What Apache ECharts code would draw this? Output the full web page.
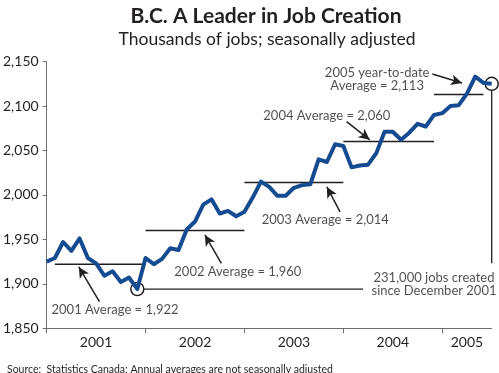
<!DOCTYPE html>
<html>
<head>
<meta charset="utf-8">
<script src="https://cdn.jsdelivr.net/npm/echarts@6/dist/echarts.min.js"></script>
<style>
html,body{margin:0;padding:0;background:#fff;}
#chart{width:499px;height:373px;}
</style>
</head>
<body>
<div id="chart"></div>
<script>
// Monthly employment, Jan 2001 .. Jul 2005 (thousands, seasonally adjusted)
const jobs = [1925,1929,1947,1937,1951,1929,1923,1909,1914,1902,1907,1894,
              1929,1922,1928,1940,1938,1961,1970,1989,1995,1979,1982,1976,
              1981,1997,2015,2009,1999,1999,2008,2011,2012,2040,2037,2057,
              2055,2031,2033,2034,2047,2071,2071,2062,2070,2080,2077,2090,
              2092,2100,2101,2114,2133,2126,2125];
const years = ['2001','2002','2003','2004','2005'];
const yearStartMonth = [0,12,24,36,48];
const yearLabelMonth = [6,18,30,42,51];
const yTicks = [1850,1900,1950,2000,2050,2100,2150];
// annual averages (not seasonally adjusted)
const avgValues = [1922,1960,2014,2060,2113];
const avgFrom = [1,12,24,36,47];
const avgTo = [12,24,36,47,53];
const avgTexts = ['2001 Average = 1,922','2002 Average = 1,960','2003 Average = 2,014','2004 Average = 2,060','2005 year-to-date\nAverage = 2,113'];
const createdText = '231,000 jobs created\nsince December 2001';
const lowIndex = 11;   // December 2001
const lastIndex = jobs.length - 1;

const FONT = 'Lato';
const TXT = '#231f20';
const chart = echarts.init(document.getElementById('chart'), null, {renderer:'canvas'});

const fmt = v => String(v).replace(/\B(?=(\d{3})+(?!\d))/g, ',');

// annotation text anchors (month, value) and arrow segments
const textPos = [[8.3,1870.5],[23.2,1913.5],[33.8,1972],[34.0,2089],[40.1,2130]];
const arrows = [
  [[6.4,1880],[3.9,1919]],
  [[21.2,1923],[19.2,1955]],
  [[35.6,1981],[34.0,2009]],
  [[36.4,2082.5],[39.2,2062]],
  [[46.8,2136],[50.4,2126]]
];

const series = [];
series.push({
  type:'line', xAxisIndex:0, yAxisIndex:0,
  data: jobs.map((v,i)=>[i,v]),
  showSymbol:false, symbol:'none',
  lineStyle:{color:'#154c91', width:4, join:'round'},
  z:5, silent:true,
  markPoint:{
    symbol:'circle', symbolSize:13, silent:true,
    itemStyle:{color:'rgba(0,0,0,0)', borderColor:TXT, borderWidth:1.5},
    label:{show:false},
    data:[{coord:[lowIndex, jobs[lowIndex]]},{coord:[lastIndex, jobs[lastIndex]]}]
  }
});
avgValues.forEach((v,k)=>{
  series.push({
    type:'line', xAxisIndex:0, yAxisIndex:0,
    data:[[avgFrom[k],v],[avgTo[k],v]],
    symbol:'none', lineStyle:{color:TXT,width:1.5}, z:3, silent:true
  });
});
// connectors
series.push({
  type:'line', xAxisIndex:0, yAxisIndex:0, symbol:'none', silent:true, z:3,
  data:[[lowIndex+0.8, jobs[lowIndex]],[38.4, jobs[lowIndex]]],
  lineStyle:{color:TXT,width:1.3}
});
series.push({
  type:'line', xAxisIndex:0, yAxisIndex:0, symbol:'none', silent:true, z:3,
  data:[[lastIndex, jobs[lastIndex]-7.5],[lastIndex, 1923]],
  lineStyle:{color:TXT,width:1.3}
});
// arrows + texts
series.push({
  type:'scatter', xAxisIndex:0, yAxisIndex:0, symbolSize:0, silent:true, z:6,
  data: textPos.map((p,k)=>({value:p, label:{formatter:avgTexts[k]}})).concat([{value:[47.0,1899.5],label:{formatter:createdText}}]),
  label:{show:true, position:'inside', color:TXT, fontFamily:FONT, fontSize:13, lineHeight:13, align:'center', verticalAlign:'middle'},
  markLine:{
    silent:true, symbol:['none','arrow'], symbolSize:[8,11],
    lineStyle:{color:TXT, width:1.5, type:'solid'},
    label:{show:false},
    data: arrows.map(a=>[{coord:a[0]},{coord:a[1]}])
  }
});

chart.setOption({
  animation:false,
  backgroundColor:'#fff',
  title:[
    {text:'B.C. A Leader in Job Creation', left:261, top:1, textAlign:'center',
     textStyle:{fontFamily:FONT, fontWeight:'bold', fontSize:21, color:TXT}},
    {text:'Thousands of jobs; seasonally adjusted', left:262, top:25, textAlign:'center',
     textStyle:{fontFamily:FONT, fontWeight:'normal', fontSize:17.5, color:TXT}},
    {text:'Source:  Statistics Canada; Annual averages are not seasonally adjusted', left:2, top:359,
     textStyle:{fontFamily:FONT, fontWeight:'normal', fontSize:10.5, color:TXT}}
  ],
  grid:{left:41.7, right:7.3, top:61.6, bottom:44.8, containLabel:false},
  xAxis:[
    {type:'value', min:0, max:lastIndex, show:false},
    {type:'value', min:0, max:lastIndex, position:'bottom',
     axisLine:{show:true, lineStyle:{color:'#6d6e71', width:1}},
     axisTick:{show:true, inside:false, length:5, customValues:yearStartMonth, lineStyle:{color:'#6d6e71'}},
     axisLabel:{customValues:yearLabelMonth, formatter:v=>years[yearLabelMonth.indexOf(v)]||'',
       fontFamily:FONT, fontSize:14, color:TXT, margin:7},
     splitLine:{show:false}}
  ],
  yAxis:{type:'value', min:yTicks[0], max:yTicks[yTicks.length-1], interval:50,
    axisLine:{show:true, lineStyle:{color:'#6d6e71', width:1}},
    axisTick:{show:true, length:4, lineStyle:{color:'#6d6e71'}},
    axisLabel:{formatter:fmt, fontFamily:FONT, fontSize:14, color:TXT, margin:8},
    splitLine:{show:false}},
  series: series
});
</script>
</body>
</html>
